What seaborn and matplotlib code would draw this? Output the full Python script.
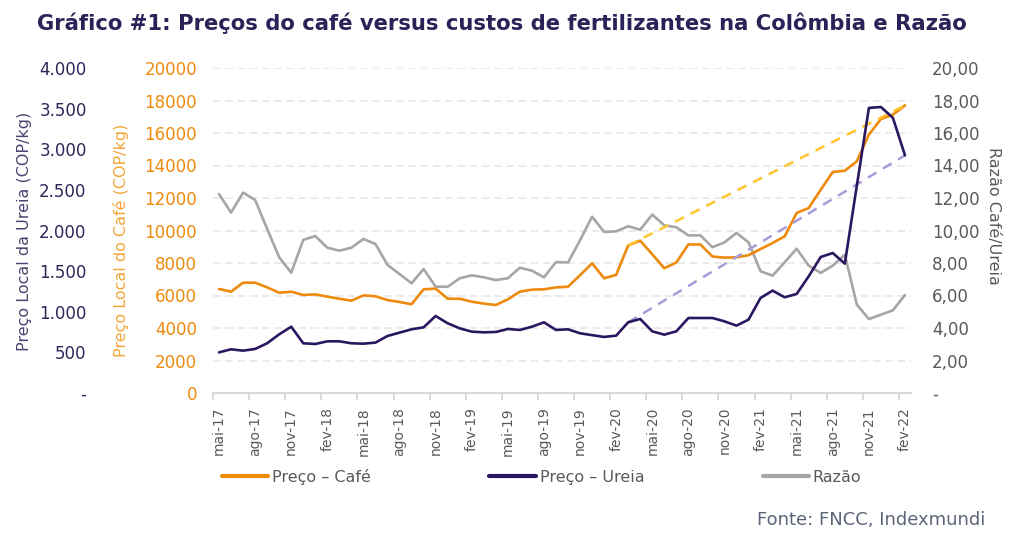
import matplotlib.pyplot as plt
import seaborn as sns
import pandas as pd
from matplotlib.lines import Line2D
from matplotlib.ticker import FuncFormatter, FixedLocator

meses = ['mai-17', 'jun-17', 'jul-17', 'ago-17', 'set-17', 'out-17', 'nov-17', 'dez-17',
         'jan-18', 'fev-18', 'mar-18', 'abr-18', 'mai-18', 'jun-18', 'jul-18', 'ago-18',
         'set-18', 'out-18', 'nov-18', 'dez-18', 'jan-19', 'fev-19', 'mar-19', 'abr-19',
         'mai-19', 'jun-19', 'jul-19', 'ago-19', 'set-19', 'out-19', 'nov-19', 'dez-19',
         'jan-20', 'fev-20', 'mar-20', 'abr-20', 'mai-20', 'jun-20', 'jul-20', 'ago-20',
         'set-20', 'out-20', 'nov-20', 'dez-20', 'jan-21', 'fev-21', 'mar-21', 'abr-21',
         'mai-21', 'jun-21', 'jul-21', 'ago-21', 'set-21', 'out-21', 'nov-21', 'dez-21',
         'jan-22', 'fev-22']

# Preço local do café (COP/kg)
cafe = [6400, 6235, 6790, 6790, 6500, 6170, 6235, 6030, 6070, 5930,
        5800, 5680, 6010, 5950, 5720, 5600, 5460, 6380, 6420, 5800,
        5800, 5620, 5500, 5415, 5765, 6235, 6360, 6380, 6500, 6540,
        7250, 7980, 7060, 7270, 9080, 9375, 8535, 7680, 8030, 9140,
        9140, 8400, 8330, 8350, 8480, 8860, 9230, 9640, 11080, 11385,
        12510, 13600, 13680, 14260, 15900, 16860, 17130, 17700]

# Preço local da ureia (COP/kg)
ureia = [500, 538, 521, 542, 612, 722, 816, 612, 603, 636,
         636, 612, 607, 620, 702, 743, 784, 808, 948, 858,
         796, 755, 747, 751, 788, 776, 816, 870, 776, 784,
         735, 712, 690, 706, 870, 911, 759, 718, 759, 923,
         923, 923, 882, 829, 903, 1170, 1260, 1178, 1219, 1436,
         1674, 1723, 1592, 2552, 3508, 3520, 3385, 2925]

# Razão café / ureia
razao = [12.25, 11.1, 12.33, 11.88, 10.1, 8.35, 7.4, 9.42, 9.66, 8.94,
         8.76, 8.94, 9.48, 9.17, 7.88, 7.32, 6.75, 7.63, 6.54, 6.54,
         7.06, 7.24, 7.12, 6.95, 7.06, 7.71, 7.53, 7.12, 8.06, 8.03,
         9.4, 10.85, 9.91, 9.95, 10.26, 10.05, 10.98, 10.32, 10.2, 9.7,
         9.7, 8.97, 9.27, 9.85, 9.27, 7.49, 7.22, 8.04, 8.88, 7.84,
         7.39, 7.84, 8.51, 5.44, 4.55, 4.82, 5.09, 6.03]

# tendência: de mar-20 até fev-22
tendencia = ['mar-20', 'fev-22']

LARANJA = '#EE8A0C'
ROXO = '#2A1760'
CINZA = '#A6A6A6'
AMARELO = '#FFC42E'
LILAS = '#A99BDA'
TXT = '#595959'

sns.set_style('white')
plt.rcParams['font.family'] = ['DejaVu Sans']

df = pd.DataFrame({'mes': meses, 'cafe': cafe, 'ureia': ureia, 'razao': razao})
df['pos'] = range(len(df))
df_t = df[df['mes'].isin(tendencia)]

W, H = 1033, 535
fig = plt.figure(figsize=(W / 100, H / 100), dpi=100)
fig.patch.set_facecolor('white')
ax = fig.add_axes([213 / W, 1 - 393 / H, 698 / W, 325 / H])
ax_r = ax.twinx()
ax_u = ax.twinx()
ax_r.set_zorder(1)
ax.set_zorder(2)
ax_u.set_zorder(3)
for a in (ax, ax_r, ax_u):
    a.patch.set_visible(False)
    for s in a.spines.values():
        s.set_visible(False)

# grid on razão axis (lowest layer)
ax_r.set_ylim(0, 20)
ax_r.set_yticks(range(0, 21, 2))
ax_r.grid(axis='y', color='#E6E6E6', lw=1.1, linestyle=(0, (5, 3)))
ax_r.set_axisbelow(True)

sns.lineplot(data=df, x='pos', y='razao', ax=ax_r, color=CINZA, lw=1.9)
sns.lineplot(data=df, x='pos', y='cafe', ax=ax, color=LARANJA, lw=1.9)
sns.lineplot(data=df_t, x='pos', y='cafe', ax=ax, color=AMARELO, lw=1.8,
             linestyle=(0, (4, 3)))
sns.lineplot(data=df_t, x='pos', y='ureia', ax=ax_u, color=LILAS, lw=1.8,
             linestyle=(0, (4, 3)))
sns.lineplot(data=df, x='pos', y='ureia', ax=ax_u, color=ROXO, lw=1.9)

ax.set_ylim(0, 20000)
ax_u.set_ylim(0, 4000)
ax.set_xlim(-0.5, len(meses) - 0.5)

# x axis: labels at month centres, tick marks between months
ax.spines['bottom'].set_visible(True)
ax.spines['bottom'].set_color('#D9D9D9')
ax.spines['bottom'].set_linewidth(1.5)
pos_lab = list(range(0, len(meses), 3))
ax.set_xticks(pos_lab)
ax.set_xticklabels([meses[i] for i in pos_lab], rotation=90, fontsize=10, color=TXT)
ax.xaxis.set_minor_locator(FixedLocator([i - 0.5 for i in pos_lab]))
ax.tick_params(axis='x', which='major', length=0, pad=10)
ax.tick_params(axis='x', which='minor', length=5, width=1.3, color='#D9D9D9', bottom=True)

# café axis (inner left)
ax.set_yticks(range(0, 20001, 2000))
ax.tick_params(axis='y', length=0, pad=11.5, labelsize=12, labelcolor=LARANJA, left=True, labelleft=True)

# ureia axis (outer left)
ax_u.yaxis.tick_left()
ax_u.set_yticks(range(0, 4001, 500))
ax_u.yaxis.set_major_formatter(FuncFormatter(
    lambda v, p: '-' if v == 0 else f'{int(v):,}'.replace(',', '.')))
ax_u.tick_params(axis='y', length=0, pad=91, labelsize=12, labelcolor='#2E2658')

# razão axis (right)
ax_r.yaxis.set_major_formatter(FuncFormatter(
    lambda v, p: '-' if v == 0 else f'{v:.2f}'.replace('.', ',')))
ax_r.tick_params(axis='y', length=0, pad=15, labelsize=12, labelcolor=TXT)

for a in (ax, ax_r, ax_u):
    a.set_xlabel('')
    a.set_ylabel('')

fig.text(25 / W, 1 - 231 / H, 'Preço Local da Ureia (COP/kg)', rotation=90,
         ha='center', va='center', fontsize=11.5, color='#4B4370')
fig.text(121 / W, 1 - 240 / H, 'Preço Local do Café (COP/kg)', rotation=90,
         ha='center', va='center', fontsize=11.5, color='#F3A53A')
fig.text(993 / W, 1 - 216 / H, 'Razão Café/Ureia', rotation=270,
         ha='center', va='center', fontsize=11.5, color=TXT)

fig.text(502 / W, 1 - 23 / H,
         'Gráfico #1: Preços do café versus custos de fertilizantes na Colômbia e Razão',
         ha='center', va='center', fontsize=15.2, fontweight='bold', color='#2A2358')

handles = [Line2D([], [], color=LARANJA, lw=3),
           Line2D([], [], color=ROXO, lw=3),
           Line2D([], [], color=CINZA, lw=3)]
fig.legend(handles, ['Preço – Café', 'Preço – Ureia', 'Razão'],
           loc='center left', bbox_to_anchor=(222 / W, 1 - 477 / H), ncol=3,
           frameon=False, fontsize=11.5, handlelength=2.9, handletextpad=0.25,
           columnspacing=7.4, borderpad=0, borderaxespad=0, labelcolor=TXT)

fig.text(985 / W, 1 - 520 / H, 'Fonte: FNCC, Indexmundi', ha='right', va='center',
         fontsize=13, color='#5B6478')

fig.savefig('out.png', dpi=100, facecolor='white')
